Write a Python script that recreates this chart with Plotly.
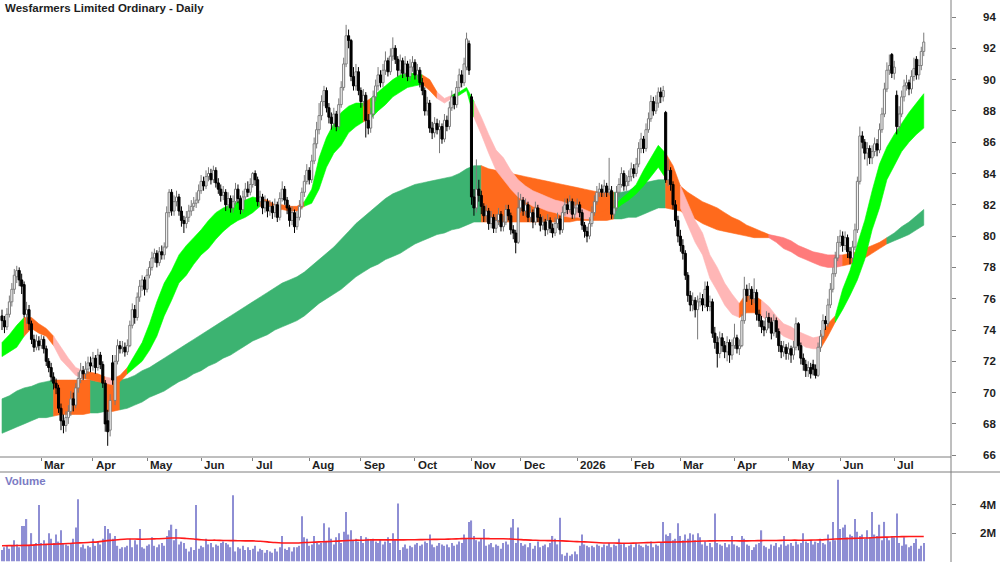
import numpy as np
import pandas as pd
import plotly.graph_objects as go

# ---------------- DATA ----------------
TITLE = "Wesfarmers Limited Ordinary - Daily"
START_DATE = "2025-02-07"   # first trading day shown

OPEN = [
74.9,74.6,74.2,75.0,75.8,76.6,77.4,77.8,77.2,76.9, 75.0,75.3,74.4,73.4,72.9,73.3,73.0,73.4,72.8,72.0,
71.6,71.0,70.6,70.3,69.0,68.2,67.9,68.4,68.8,69.6, 69.2,70.3,70.9,71.4,71.2,71.5,71.9,71.7,72.2,71.6,
72.4,71.8,70.6,68.2,67.6,71.9,69.5,72.0,73.0,72.8, 72.9,72.6,73.0,74.3,75.3,74.8,76.1,76.8,77.2,76.6,
77.5,78.0,78.6,78.9,78.3,79.0,78.8,79.3,81.5,82.8, 81.6,82.2,82.5,81.6,81.0,80.8,81.2,81.6,81.9,82.1,
82.3,82.9,83.5,83.2,83.8,84.0,83.6,84.2,83.4,83.0, 82.6,82.8,82.0,82.4,81.8,82.2,83.0,82.4,81.7,82.5,
83.0,82.8,83.3,84.0,83.6,82.2,82.5,81.8,82.2,81.6, 81.9,81.5,82.0,81.2,82.4,83.0,82.3,81.8,81.0,81.5,
80.6,81.2,81.9,82.8,83.5,84.2,83.6,84.8,85.9,86.8, 87.7,88.6,89.3,88.2,87.6,87.2,87.8,87.0,88.4,89.5,
91.0,92.8,92.5,90.2,89.6,90.5,89.3,88.6,89.0,87.4, 86.9,87.8,88.9,89.6,90.3,89.8,90.6,91.2,90.5,91.5,
92.0,91.3,90.6,91.2,90.4,91.0,90.2,90.8,91.1,90.3, 90.6,89.8,89.3,88.0,88.5,86.9,86.6,87.2,86.8,87.0,
86.2,87.4,87.0,88.2,88.9,88.4,89.5,90.3,89.8,90.8, 92.3,88.9,82.5,81.8,83.0,82.6,81.9,81.3,81.6,80.8,
81.2,80.5,81.0,81.4,80.6,80.9,81.7,81.3,80.4,80.2, 79.6,81.8,82.3,81.6,82.0,81.2,81.5,80.9,81.8,81.2,
80.7,80.9,80.4,81.0,80.5,80.2,80.8,81.1,80.4,81.5, 82.0,81.7,82.2,81.4,81.8,82.0,81.5,80.7,80.3,80.0,
80.8,81.5,82.2,82.8,83.0,82.8,83.2,82.8,82.9,81.4, 81.8,82.8,83.3,84.0,83.2,83.5,83.8,84.3,84.0,84.6,
85.6,86.2,85.6,86.8,87.5,88.6,88.0,88.5,89.2,88.9, 87.9,83.6,84.2,83.3,82.0,81.0,80.0,79.4,78.9,77.5,
76.2,75.6,75.9,75.3,75.8,76.0,75.6,76.8,75.5,75.8, 73.8,73.2,72.5,73.5,73.0,72.6,73.2,72.4,73.0,73.5,
72.8,73.0,74.6,76.6,76.2,76.6,76.0,76.4,75.0,74.6, 74.2,74.0,74.8,74.5,73.8,74.6,73.9,73.0,72.6,72.9,
72.5,72.8,72.4,72.9,74.4,73.0,72.2,71.8,71.4,71.6, 71.8,71.5,71.1,72.9,73.6,74.6,74.4,75.6,76.6,77.6,
78.6,79.6,80.0,79.4,79.9,79.0,78.6,79.3,80.4,83.5, 86.4,86.0,85.3,85.6,85.0,85.4,85.9,85.5,86.8,87.8,
89.4,90.6,91.6,90.4,89.0,87.0,87.8,88.9,89.6,89.8, 89.4,90.2,91.3,90.3,90.9,91.8]

HIGH = [
75.3,74.9,75.4,76.2,77.0,77.9,78.1,78.0,77.6,77.1, 75.8,75.6,74.6,73.7,73.7,73.6,73.7,73.6,73.0,72.2,
71.9,71.3,70.9,70.5,69.3,68.6,68.8,69.2,70.1,70.0, 70.6,71.3,71.9,71.7,72.0,72.3,72.3,72.6,72.4,72.8,
72.6,72.0,70.8,68.9,69.9,72.4,72.4,73.4,73.3,73.3, 73.2,73.4,74.6,75.7,75.6,76.4,77.2,77.5,77.4,77.9,
78.4,79.0,79.2,79.1,79.3,79.4,79.6,81.9,83.0,83.0, 82.6,82.9,82.7,81.9,81.3,81.6,82.0,82.3,82.5,82.8,
83.3,83.9,83.8,84.2,84.4,84.3,84.5,84.4,83.7,83.3, 83.2,83.0,82.8,82.6,82.6,83.4,83.3,82.6,82.9,83.4,
83.5,83.7,84.1,84.2,83.8,82.9,82.7,82.6,82.4,82.3, 82.2,82.4,82.2,82.8,83.5,83.2,82.5,82.0,81.9,81.7,
81.6,82.3,83.1,83.9,84.6,84.4,85.2,86.3,87.3,88.5, 89.0,89.6,89.5,88.5,87.9,88.2,88.0,88.8,89.9,91.4,
93.5,93.2,92.6,90.8,91.0,90.8,89.5,89.4,89.2,87.8, 88.2,89.3,90.0,90.8,90.6,91.0,91.8,91.4,92.0,92.7,
92.2,91.5,91.6,91.4,91.5,91.2,91.3,91.5,91.3,91.0, 90.8,90.1,89.5,88.9,88.7,87.3,87.6,87.5,87.4,87.2,
87.8,87.7,88.6,89.3,89.1,89.9,90.7,90.6,91.4,93.0, 92.5,89.1,83.0,84.9,83.6,82.9,82.1,82.0,81.8,81.6,
81.4,81.4,81.8,81.6,81.3,82.0,82.0,81.5,80.7,80.4, 82.8,82.7,82.5,82.4,82.2,81.9,81.7,82.2,82.0,81.4,
81.3,81.1,81.4,81.2,80.8,81.2,81.5,81.3,81.9,82.4, 82.4,82.6,82.4,82.2,82.4,82.2,81.7,80.9,80.6,81.2,
81.9,82.6,83.2,83.4,83.3,83.6,83.4,85.0,83.2,82.3, 83.2,83.7,84.4,84.2,83.9,84.2,84.7,84.6,85.0,86.0,
86.6,86.4,87.2,87.9,89.0,88.9,89.0,89.5,89.5,89.6, 88.0,84.9,84.4,83.5,82.3,81.3,80.4,79.8,79.1,77.7,
76.5,76.4,76.1,76.2,76.4,76.3,77.1,77.1,76.2,76.0, 74.2,73.6,73.9,73.8,73.3,73.6,73.4,73.4,74.4,73.7,
73.4,75.0,77.4,76.9,77.0,76.8,77.3,76.6,75.3,74.9, 74.6,75.2,75.1,74.8,75.0,74.8,74.1,73.3,73.3,73.1,
73.2,73.0,73.3,74.8,74.5,73.2,72.5,72.1,72.0,71.9, 72.1,71.8,73.2,74.0,75.0,74.9,76.0,77.0,78.0,79.0,
80.0,80.4,80.3,80.3,80.1,79.3,79.7,80.8,83.8,87.0, 86.7,86.2,86.0,85.8,85.8,86.3,86.2,87.2,88.2,89.8,
91.1,91.6,91.7,91.2,89.3,88.3,89.3,90.0,90.3,90.0, 90.6,91.4,91.5,91.3,92.1,93.0]

LOW = [
74.0,73.8,74.0,74.8,75.5,76.3,77.0,76.8,76.3,74.8, 74.4,74.0,73.1,72.6,72.7,72.7,72.8,72.5,71.7,71.3,
70.7,70.2,69.9,68.7,67.6,67.4,67.5,68.0,68.5,68.8, 69.0,70.0,70.6,70.8,70.9,71.2,71.3,71.4,71.2,71.4,
71.5,70.3,67.5,66.6,67.2,70.5,69.2,71.8,72.5,72.5, 72.3,72.4,72.9,74.1,74.4,74.6,75.8,76.5,76.2,76.4,
77.3,77.8,78.3,78.0,78.1,78.5,78.5,79.2,81.2,81.3, 81.3,81.9,81.3,80.6,80.2,80.5,80.9,81.3,81.6,81.8,
82.1,82.7,82.9,83.0,83.5,83.3,83.4,83.1,82.7,82.2, 82.3,81.6,81.7,81.5,81.5,82.0,82.1,81.4,81.5,82.3,
82.5,82.6,83.1,83.2,81.9,81.9,81.4,81.5,81.2,81.3, 81.1,81.2,80.9,81.0,82.2,82.0,81.4,80.6,80.7,80.2,
80.4,81.0,81.7,82.5,83.3,83.3,83.4,84.6,85.6,86.5, 87.4,88.3,87.9,87.2,86.8,86.9,86.7,86.8,88.2,89.3,
90.8,92.0,89.9,89.3,89.3,89.0,88.2,88.3,86.3,86.5, 86.6,87.5,88.6,89.3,89.5,89.5,90.3,90.2,90.3,91.2,
91.0,90.2,90.3,90.1,90.1,89.9,89.9,90.5,90.0,90.0, 89.5,89.0,87.7,87.7,86.6,86.2,86.3,86.5,85.3,85.9,
86.0,86.7,86.8,88.0,88.1,88.2,89.2,89.5,89.6,90.6, 90.3,82.0,81.3,81.5,82.2,81.4,80.9,80.9,80.4,80.5,
80.2,80.2,80.7,80.3,80.3,80.7,81.0,80.1,79.8,78.9, 79.5,81.5,81.3,81.3,80.9,80.9,80.5,80.7,80.9,80.3,
80.4,80.0,80.1,80.2,79.9,80.0,80.5,80.1,80.2,81.3, 81.4,81.5,81.1,81.1,81.5,81.2,80.4,79.9,79.6,79.8,
80.6,81.3,82.0,82.5,82.5,82.5,82.5,82.6,81.1,81.1, 81.6,82.5,83.1,82.9,82.9,83.2,83.5,83.7,83.8,84.4,
85.3,85.3,85.4,86.6,87.3,87.7,87.8,88.2,88.5,88.6, 83.4,83.2,82.9,81.7,80.6,79.6,79.0,78.5,77.2,75.8,
75.2,75.2,74.8,73.4,75.5,75.2,75.4,75.2,75.2,73.5, 72.8,71.6,72.2,72.6,72.2,72.0,71.9,72.1,72.8,72.5,
72.4,72.9,74.4,75.8,75.9,75.6,75.7,74.6,74.2,73.8, 73.6,73.8,74.1,73.4,73.6,73.5,72.6,72.2,72.3,72.1,
72.1,71.9,72.1,72.7,72.7,71.8,71.4,71.0,71.0,70.9, 71.1,70.9,71.0,72.6,73.4,74.0,74.2,75.4,76.4,77.4,
78.4,79.3,79.0,79.1,78.6,78.2,78.3,79.1,80.2,83.3, 85.6,84.9,84.5,84.6,84.6,85.1,85.1,85.3,86.6,87.6,
89.2,90.3,90.1,90.0,86.5,86.7,87.6,88.6,89.3,89.0, 89.1,89.9,90.0,90.0,90.6,91.5]

CLOSE = [
74.6,74.2,75.0,75.8,76.6,77.5,77.8,77.2,76.8,75.0, 75.3,74.4,73.4,72.9,73.3,73.0,73.4,72.8,72.0,71.6,
71.0,70.6,70.3,69.0,68.2,67.9,68.4,68.8,69.6,69.2, 70.3,70.9,71.4,71.2,71.5,71.9,71.7,72.2,71.6,72.4,
71.8,70.6,68.0,67.5,69.5,70.8,72.0,73.0,72.8,72.9, 72.6,73.0,74.3,75.3,74.8,76.1,76.8,77.2,76.6,77.5,
78.0,78.6,78.9,78.3,79.0,78.8,79.3,81.5,82.8,81.6, 82.2,82.5,81.6,81.0,80.8,81.2,81.6,81.9,82.1,82.3,
82.9,83.5,83.2,83.8,84.0,83.6,84.2,83.4,83.0,82.6, 82.8,82.0,82.4,81.8,82.2,83.0,82.4,81.7,82.5,83.0,
82.8,83.3,84.0,83.6,82.2,82.5,81.8,82.2,81.6,81.9, 81.5,82.0,81.2,82.4,83.0,82.3,81.8,81.0,81.5,80.6,
81.2,81.9,82.8,83.5,84.2,83.6,84.8,85.9,86.8,87.7, 88.6,89.3,88.2,87.6,87.2,87.8,87.0,88.4,89.5,91.0,
92.8,92.5,90.2,89.6,90.5,89.3,88.6,89.0,87.4,86.9, 87.8,88.9,89.6,90.3,89.8,90.6,91.2,90.5,91.5,92.0,
91.3,90.6,91.2,90.4,91.0,90.2,90.8,91.1,90.3,90.6, 89.8,89.3,88.0,88.5,86.9,86.6,87.2,86.8,87.0,86.2,
87.4,87.0,88.2,88.9,88.4,89.5,90.3,89.8,91.0,92.6, 90.6,82.5,81.8,83.0,82.6,81.9,81.3,81.6,80.8,81.2,
80.5,81.0,81.4,80.6,80.9,81.7,81.3,80.4,80.2,79.6, 81.8,82.3,81.6,82.0,81.2,81.5,80.9,81.8,81.2,80.7,
80.9,80.4,81.0,80.5,80.2,80.8,81.1,80.4,81.5,82.0, 81.7,82.2,81.4,81.8,82.0,81.5,80.7,80.3,80.0,80.8,
81.5,82.2,82.8,83.0,82.8,83.2,82.8,83.0,81.4,81.8, 82.8,83.3,84.0,83.2,83.5,83.8,84.3,84.0,84.6,85.6,
86.2,85.6,86.8,87.5,88.6,88.0,88.5,89.2,88.9,89.3, 83.6,84.2,83.3,82.0,81.0,80.0,79.4,78.9,77.5,76.2,
75.6,75.9,75.3,75.8,76.0,75.6,76.6,75.5,75.8,73.8, 73.2,72.5,73.5,73.0,72.6,73.2,72.4,73.0,73.5,72.8,
73.0,74.6,76.6,76.2,76.6,76.0,76.4,75.0,74.6,74.2, 74.0,74.8,74.5,73.8,74.6,73.9,73.0,72.6,72.9,72.5,
72.8,72.4,72.9,74.4,73.0,72.2,71.8,71.4,71.6,71.2, 71.5,71.1,72.9,73.6,74.6,74.4,75.6,76.6,77.6,78.6,
79.6,80.0,79.4,79.9,79.0,78.6,79.3,80.4,83.5,86.4, 86.0,85.3,85.6,85.0,85.4,85.9,85.5,86.8,87.8,89.4,
90.6,90.9,90.4,90.8,87.0,87.8,88.9,89.6,89.8,89.4, 90.2,90.7,90.3,90.9,91.8,92.4]

VOLUME_M = [
0.8,1.0,1.1,0.9,1.1,1.5,1.2,1.0,2.5,2.5, 3.0,1.1,2.0,1.2,1.3,4.0,1.3,1.5,1.2,2.0,
1.6,1.3,1.9,1.4,2.2,1.3,1.2,1.1,1.3,1.6, 2.4,4.4,1.0,1.2,0.9,1.1,1.0,1.6,1.1,1.4,
1.2,1.6,2.5,2.3,2.0,1.6,1.8,1.1,0.9,1.0, 1.0,1.1,1.6,1.0,1.5,1.2,2.3,1.0,0.9,1.1,
1.2,1.7,1.1,1.0,1.2,1.3,1.1,1.8,2.2,2.6, 1.5,2.3,1.2,1.4,1.3,0.9,0.7,1.0,0.8,4.0,
0.9,1.1,1.0,1.6,1.2,1.3,1.0,1.2,1.1,1.3, 1.4,1.3,1.2,1.0,4.7,0.7,1.0,0.9,1.1,0.8,
1.0,0.8,0.9,1.1,0.7,0.9,0.8,0.6,0.8,0.7, 0.6,0.9,0.7,1.0,1.8,0.9,0.8,1.0,0.7,1.0,
1.0,1.1,3.2,1.7,1.6,1.1,1.2,1.8,1.3,1.2, 1.3,2.7,1.4,2.4,1.6,1.2,1.7,2.0,1.3,2.1,
3.5,1.9,2.2,1.5,1.6,1.4,1.8,1.3,1.7,1.6, 1.5,1.6,1.4,1.3,1.5,1.2,1.4,1.7,1.3,2.0,
1.5,4.1,0.8,1.0,1.2,0.9,1.1,1.0,1.2,1.3, 1.1,1.2,1.4,1.3,1.9,1.2,1.0,1.1,1.3,1.2,
1.1,1.2,1.0,1.3,1.1,1.2,1.4,1.3,1.9,1.6, 2.8,2.9,1.8,1.5,1.4,1.6,2.3,1.1,1.2,1.3,
1.0,1.2,1.1,0.9,1.3,1.4,1.2,2.4,3.0,1.3, 2.4,1.3,1.1,1.2,1.0,1.3,0.9,1.1,1.4,1.0,
1.1,1.2,1.0,1.3,1.8,1.6,1.2,3.1,0.5,0.4, 0.6,0.4,0.5,0.7,0.5,1.1,1.9,1.2,1.1,1.0,
1.1,1.0,1.2,1.1,1.0,1.2,1.1,1.3,1.0,1.2, 1.1,1.6,1.2,1.3,1.0,1.1,1.2,1.0,1.3,1.2,
1.1,1.0,1.2,1.1,1.4,1.0,1.2,1.1,1.3,2.8, 1.9,1.8,2.0,1.5,1.6,2.7,1.8,1.5,1.9,1.6,
2.0,1.9,1.5,2.0,1.7,1.2,1.4,1.1,1.3,1.0, 3.4,1.3,1.2,1.1,1.3,1.0,1.2,1.8,1.2,1.1,
1.0,1.8,1.6,1.2,1.1,0.8,1.0,1.2,1.3,2.2, 1.1,1.0,0.9,1.2,1.1,1.3,1.0,1.2,1.8,1.1,
1.2,1.3,1.1,1.4,1.2,1.3,2.0,1.4,1.3,1.5, 1.2,1.4,1.3,1.6,1.3,1.2,1.9,1.4,2.8,1.5,
5.8,2.3,2.4,2.6,1.7,1.9,1.8,3.0,2.1,1.8, 1.9,1.6,2.2,1.7,3.5,1.9,1.8,2.6,1.5,2.8,
1.7,1.5,1.8,1.7,3.4,1.3,1.1,1.7,1.2,1.0, 1.1,1.3,1.6,0.9,1.1,1.3]

# Ribbon / volume-average values sampled every RIBBON_STEP trading days
RIBBON_STEP = 3
SR_TOP = [
73.2,73.7,74.3,74.8,74.8,74.4,74.1,73.6,72.9,72.2, 71.6,71.4,71.3,71.2,71.0,70.9,71.1,71.6,72.4,73.2,
74.4,75.8,77.0,77.8,78.8,79.4,79.9,80.4,81.0,81.5, 81.8,82.0,82.2,82.3,82.5,82.4,82.3,82.0,82.0,81.9,
81.9,82.2,83.0,85.0,86.3,87.2,87.9,88.3,88.5,88.5, 88.8,89.2,89.6,90.0,90.3,90.4,90.4,90.3,90.0,89.2,
88.8,89.0,89.2,89.5,88.6,87.6,86.5,85.5,85.0,84.2, 83.6,83.2,82.9,82.7,82.5,82.3,82.2,82.0,81.9,81.7,
81.5,81.5,81.7,81.9,82.4,82.8,83.3,84.2,85.0,85.8, 85.3,84.5,83.2,82.1,81.0,80.2,78.8,78.0,77.0,76.3,
75.7,76.4,76.2,75.9,75.5,74.9,74.4,74.2,73.9,73.7, 73.5,73.6,74.4,74.9,76.6,77.8,79.5,81.0,82.9,84.6,
85.7,86.5,87.2,87.9,88.5,89.1]
SR_BOT = [
72.3,72.6,72.9,73.6,74.1,73.8,73.6,73.0,72.1,71.6, 71.1,70.9,70.8,70.7,70.6,70.5,70.7,71.2,71.6,72.0,
72.7,73.6,74.9,75.9,77.0,77.5,78.2,78.8,79.2,79.8, 80.3,80.7,81.0,81.2,81.5,81.9,81.9,81.6,81.7,81.6,
81.6,81.9,82.1,83.0,84.4,85.3,85.8,86.6,87.0,87.3, 87.5,88.0,88.4,88.9,89.2,89.5,89.6,89.7,89.3,88.8,
88.5,88.8,89.0,89.3,87.6,86.5,85.3,84.2,83.6,83.0, 82.5,82.2,81.9,81.8,81.6,81.5,81.3,81.2,81.2,81.1,
81.1,81.2,81.4,81.6,82.0,82.3,82.7,83.2,83.8,84.4, 83.7,82.8,81.8,80.7,79.6,78.8,77.3,76.5,75.6,75.0,
74.8,75.1,75.1,74.9,74.5,74.0,73.6,73.4,73.2,72.9, 72.8,72.8,73.6,74.5,75.3,76.2,77.2,78.5,80.4,81.8,
83.6,84.5,85.4,86.0,86.5,86.9]
# state of each interval between samples: G rising, O mixed, P falling
SR_RUNS = [("G",3),("O",4),("P",4),("O",3),("P",1),("O",2),("G",18),("O",6),("G",8),("O",1),
           ("G",7),("O",2),("P",2),("G",3),("P",16),("O",3),("G",7),("O",2),("P",8),("O",3),
           ("P",8),("O",2),("G",12)]

LR_TOP = [
69.6,69.8,70.1,70.3,70.4,70.6,70.7,70.8,70.8,70.8, 70.8,70.8,70.8,70.7,70.7,70.7,70.8,70.9,71.1,71.4,
71.6,71.9,72.2,72.5,72.8,73.1,73.4,73.7,74.0,74.3, 74.6,74.9,75.2,75.5,75.8,76.1,76.4,76.7,77.0,77.2,
77.4,77.7,78.1,78.5,78.9,79.3,79.8,80.3,80.8,81.2, 81.6,82.0,82.4,82.7,82.9,83.1,83.3,83.4,83.5,83.6,
83.7,83.8,84.0,84.3,84.5,84.5,84.3,84.2,84.1,84.0, 83.9,83.8,83.7,83.6,83.5,83.4,83.3,83.2,83.1,83.0,
82.9,82.8,82.8,82.8,82.8,82.9,83.2,83.4,83.5,83.6, 83.6,83.4,83.2,82.8,82.5,82.2,82.0,81.8,81.5,81.2,
81.0,80.7,80.5,80.3,80.1,80.0,79.9,79.7,79.4,79.2, 79.0,78.9,78.8,78.8,78.8,78.9,79.0,79.2,79.4,79.6,
79.9,80.2,80.6,80.9,81.3,81.7]
LR_BOT = [
67.4,67.6,67.8,68.0,68.2,68.4,68.4,68.5,68.6,68.6, 68.6,68.6,68.7,68.7,68.8,68.8,68.9,69.0,69.2,69.4,
69.7,69.9,70.1,70.4,70.7,70.9,71.2,71.4,71.7,71.9, 72.2,72.4,72.7,73.0,73.3,73.5,73.7,74.0,74.2,74.4,
74.6,74.9,75.3,75.7,76.0,76.3,76.6,77.0,77.4,77.7, 78.0,78.2,78.5,78.7,78.9,79.2,79.5,79.7,79.9,80.1,
80.2,80.4,80.5,80.7,80.9,80.9,80.9,80.9,80.9,80.9, 80.9,80.9,80.9,80.9,80.9,80.9,80.9,80.9,81.0,81.0,
81.0,81.0,81.0,81.1,81.1,81.2,81.2,81.4,81.6,81.8, 81.8,81.7,81.6,81.3,81.1,80.8,80.6,80.4,80.3,80.2,
80.1,80.0,79.9,79.9,79.9,79.6,79.2,79.0,78.7,78.5, 78.3,78.1,78.0,78.0,78.1,78.2,78.4,78.6,78.9,79.2,
79.5,79.7,79.9,80.1,80.4,80.7]
# D rising, O mixed, S falling
LR_RUNS = [("D",7),("O",5),("D",2),("O",2),("D",49),("O",18),("D",7),("O",14),("S",10),("O",6),("D",5)]

VOL_MA_M = [
1.10,1.11,1.12,1.13,1.15,1.18,1.20,1.22,1.24,1.26, 1.30,1.32,1.35,1.38,1.45,1.50,1.55,1.58,1.58,1.57,
1.58,1.60,1.62,1.65,1.65,1.62,1.58,1.53,1.50,1.50, 1.48,1.47,1.46,1.45,1.45,1.42,1.38,1.33,1.30,1.30,
1.30,1.33,1.35,1.38,1.40,1.42,1.45,1.48,1.50,1.50, 1.52,1.52,1.52,1.52,1.52,1.53,1.53,1.54,1.55,1.56,
1.57,1.58,1.60,1.62,1.62,1.62,1.61,1.60,1.60,1.58, 1.55,1.52,1.50,1.48,1.47,1.46,1.45,1.42,1.40,1.38,
1.35,1.32,1.30,1.30,1.28,1.28,1.30,1.32,1.33,1.35, 1.36,1.37,1.38,1.40,1.42,1.44,1.45,1.46,1.46,1.46,
1.45,1.45,1.46,1.47,1.48,1.48,1.49,1.50,1.50,1.50, 1.51,1.52,1.55,1.58,1.60,1.62,1.64,1.65,1.67,1.70,
1.72,1.74,1.75,1.76,1.76,1.76]

PRICE_TICKS = [66, 68, 70, 72, 74, 76, 78, 80, 82, 84, 86, 88, 90, 92, 94]
VOL_TICKS = [2, 4]
VOL_TICK_TEXT = ["2M", "4M"]

n = len(CLOSE)
assert len(OPEN) == n and len(HIGH) == n and len(LOW) == n and len(VOLUME_M) == n
ns = len(SR_TOP)
assert len(SR_BOT) == ns and len(LR_TOP) == ns and len(LR_BOT) == ns and len(VOL_MA_M) == ns
assert sum(c for _, c in SR_RUNS) == ns - 1 and sum(c for _, c in LR_RUNS) == ns - 1

# ---------------- LAYOUT CONSTANTS (pixels) ----------------
W, H = 1000, 562
PLOT_RIGHT = 951
PRICE_BOTTOM = 457
VOL_TOP = 472
PX_PER_DAY = 2.458
X0_PX = 2
BODY_HALF = 0.42   # candle body half-width, in trading days

FONT = "Liberation Sans, Arial, sans-serif"
AXIS_COL = "#7f7f7f"
TEXT_COL = "#1e1e1e"
UP_EDGE = "#7a7a7a"
DOWN_COL = "#000000"
SR_COLORS = {"G": "#00FF00", "O": "#FF6A1C", "P": "#FFB6B6"}
LR_COLORS = {"D": "#3CB371", "O": "#FF6A1C", "S": "#FF7B7B"}

def py(px):  # pixel y -> paper y
    return 1 - px / H

dates = pd.bdate_range(START_DATE, periods=n)
idx = np.arange(n)
x_range = [-X0_PX / PX_PER_DAY, (PLOT_RIGHT - X0_PX) / PX_PER_DAY]

fig = go.Figure()
shapes = []

def ribbon_shapes(top, bot, runs, colors):
    s = 0
    for state, cnt in runs:
        e = s + cnt
        pts = [(RIBBON_STEP * j, top[j]) for j in range(s, e + 1)]
        pts += [(RIBBON_STEP * j, bot[j]) for j in range(e, s - 1, -1)]
        path = "M " + " L ".join("%g,%g" % p for p in pts) + " Z"
        col = colors[state]
        shapes.append(dict(type="path", path=path, xref="x", yref="y", layer="below",
                           fillcolor=col, line=dict(color=col, width=0.6)))
        s = e

ribbon_shapes(LR_TOP, LR_BOT, LR_RUNS, LR_COLORS)
ribbon_shapes(SR_TOP, SR_BOT, SR_RUNS, SR_COLORS)

# candles drawn as wick lines + body polygons (so they sit above the ribbons)
def candle_traces(up):
    wx, wy, bx, by = [], [], [], []
    for i in range(n):
        o, h, l, c = OPEN[i], HIGH[i], LOW[i], CLOSE[i]
        if (c >= o) != up:
            continue
        wx += [i, i, None]
        wy += [l, h, None]
        lo, hi = min(o, c), max(o, c)
        if hi - lo < 0.08:
            hi = lo + 0.08
        bx += [i - BODY_HALF, i + BODY_HALF, i + BODY_HALF, i - BODY_HALF, i - BODY_HALF, None]
        by += [lo, lo, hi, hi, lo, None]
    col = UP_EDGE if up else DOWN_COL
    fig.add_trace(go.Scatter(x=wx, y=wy, mode="lines", line=dict(color=col, width=1),
                             hoverinfo="skip", xaxis="x", yaxis="y"))
    fig.add_trace(go.Scatter(x=bx, y=by, mode="lines", fill="toself",
                             fillcolor="#ffffff" if up else DOWN_COL,
                             line=dict(color=col, width=1),
                             hoverinfo="skip", xaxis="x", yaxis="y"))

candle_traces(True)
candle_traces(False)

fig.add_trace(go.Bar(
    x=idx, y=VOLUME_M, marker=dict(color="#8E8ED4", line=dict(width=0)),
    xaxis="x2", yaxis="y2", hoverinfo="skip"))

ma_x = [RIBBON_STEP * j for j in range(ns)]
fig.add_trace(go.Scatter(
    x=ma_x, y=VOL_MA_M, mode="lines", line=dict(color="#FF1A1A", width=1.6, shape="spline"),
    xaxis="x2", yaxis="y2", hoverinfo="skip"))

# month ticks
month_pos, month_txt = [], []
prev = None
for i, d in enumerate(dates):
    key = (d.year, d.month)
    if prev is not None and key != prev:
        month_pos.append(i)
        month_txt.append(str(d.year) if d.month == 1 else d.strftime("%b"))
    prev = key

annotations = []
annotations.append(dict(text="<b>" + TITLE + "</b>", x=3 / W, y=py(8.5), xref="paper", yref="paper",
                        xanchor="left", yanchor="middle", showarrow=False,
                        font=dict(family=FONT, size=11.5, color=TEXT_COL)))
for p, t in zip(month_pos, month_txt):
    annotations.append(dict(text="<b>" + t + "</b>", x=p, y=py(465), xref="x", yref="paper",
                            xanchor="left", yanchor="middle", xshift=1, showarrow=False,
                            font=dict(family=FONT, size=11.5, color=TEXT_COL)))
for v in PRICE_TICKS:
    annotations.append(dict(text="<b>%d</b>" % v, x=998 / W, y=v, xref="paper", yref="y",
                            xanchor="right", yanchor="middle", showarrow=False,
                            font=dict(family=FONT, size=11.5, color=TEXT_COL)))
for v, t in zip(VOL_TICKS, VOL_TICK_TEXT):
    annotations.append(dict(text="<b>" + t + "</b>", x=998 / W, y=v, xref="paper", yref="y2",
                            xanchor="right", yanchor="middle", showarrow=False,
                            font=dict(family=FONT, size=11.5, color=TEXT_COL)))
annotations.append(dict(text="<b>Volume</b>", x=3 / W, y=py(481), xref="paper", yref="paper",
                        xanchor="left", yanchor="middle", showarrow=False,
                        font=dict(family=FONT, size=11.5, color="#7B7BC4")))

shapes += [
    dict(type="line", xref="paper", yref="paper", x0=0, x1=PLOT_RIGHT / W, y0=py(PRICE_BOTTOM), y1=py(PRICE_BOTTOM),
         line=dict(color=AXIS_COL, width=1)),
    dict(type="line", xref="paper", yref="paper", x0=0, x1=1, y0=py(VOL_TOP), y1=py(VOL_TOP),
         line=dict(color=AXIS_COL, width=1)),
    dict(type="line", xref="paper", yref="paper", x0=PLOT_RIGHT / W, x1=PLOT_RIGHT / W, y0=0, y1=1,
         line=dict(color=AXIS_COL, width=1)),
]

price_lo = 94 - (PRICE_BOTTOM - 17) / 15.65
price_hi = 94 + 17 / 15.65
vol_hi = (562.7 - VOL_TOP) / 14.3

fig.update_layout(
    width=W, height=H, margin=dict(l=0, r=0, t=0, b=0),
    paper_bgcolor="white", plot_bgcolor="white", showlegend=False,
    bargap=0.5,
    xaxis=dict(domain=[0, PLOT_RIGHT / W], range=x_range, anchor="y",
               showgrid=False, zeroline=False, showline=False,
               tickmode="array", tickvals=month_pos, ticktext=[""] * len(month_pos),
               ticks="outside", ticklen=3, tickcolor=AXIS_COL, showticklabels=False,
               fixedrange=True),
    yaxis=dict(domain=[py(PRICE_BOTTOM), 1], range=[price_lo, price_hi], side="right", anchor="x",
               showgrid=False, zeroline=False, showline=False,
               tickmode="array", tickvals=PRICE_TICKS, ticks="outside", ticklen=4, tickcolor=AXIS_COL,
               showticklabels=False),
    xaxis2=dict(domain=[0, PLOT_RIGHT / W], range=x_range, anchor="y2", matches="x",
                showgrid=False, zeroline=False, showline=False, showticklabels=False, ticks=""),
    yaxis2=dict(domain=[0, py(VOL_TOP)], range=[-0.05, vol_hi], side="right", anchor="x2",
                showgrid=False, zeroline=False, showline=False,
                tickmode="array", tickvals=VOL_TICKS, ticks="outside", ticklen=4, tickcolor=AXIS_COL,
                showticklabels=False),
    annotations=annotations, shapes=shapes,
)

fig.write_html("out.html")
